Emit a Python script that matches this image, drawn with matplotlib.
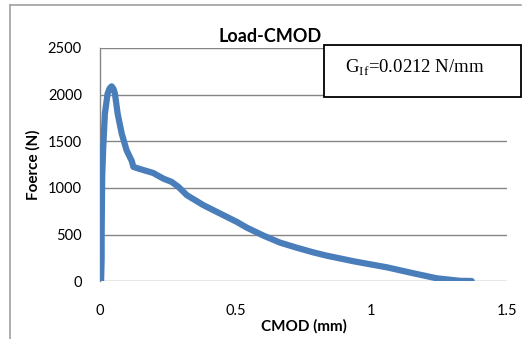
import numpy as np
import matplotlib
matplotlib.use("Agg")
import matplotlib.pyplot as plt
from matplotlib.lines import Line2D
from matplotlib.patches import Rectangle

# ---------------------------------------------------------------
# data
# ---------------------------------------------------------------
cmod = [0.004, 0.006, 0.006, 0.007, 0.008, 0.012, 0.018, 0.028, 0.036, 0.043,
        0.050, 0.055, 0.065, 0.080, 0.098, 0.117, 0.123, 0.147, 0.196, 0.233,
        0.264, 0.289, 0.320, 0.381, 0.442, 0.504, 0.541, 0.602, 0.663, 0.725,
        0.786, 0.835, 0.934, 1.000, 1.057, 1.155, 1.241, 1.327, 1.370]
force = [0, 250, 500, 800, 1120, 1440, 1797, 2011, 2070, 2089,
         2060, 2011, 1797, 1583, 1404, 1290, 1226, 1203, 1161, 1101,
         1065, 1012, 923, 816, 727, 637, 575, 490, 415, 360,
         310, 275, 215, 180, 150, 86, 32, 5, 3]

x_ticks = [0, 0.5, 1, 1.5]
x_ticklabels = ["0", "0.5", "1", "1.5"]
y_ticks = [0, 500, 1000, 1500, 2000, 2500]

title = "Load-CMOD"
x_label = "CMOD (mm)"
y_label = "Foerce (N)"
note = r"G$_{\mathrm{If}}$=0.0212 N/mm"

# ---------------------------------------------------------------
plt.rcParams['font.family'] = ['Lato', 'DejaVu Sans']
plt.rcParams['mathtext.fontset'] = 'custom'
plt.rcParams['mathtext.rm'] = 'Liberation Serif'

W, H = 522, 339
fig = plt.figure(figsize=(W / 100, H / 100), dpi=100)

def fx(px):
    return px / W

def fy(py):
    return 1 - py / H

ax = fig.add_axes([fx(100), fy(281.3), fx(507) - fx(100), fy(48) - fy(281.3)])

ax.plot(cmod, force, color='#4a7ebb', linewidth=4.5,
        solid_capstyle='round', solid_joinstyle='round', zorder=3)

ax.set_xlim(0, 1.5)
ax.set_ylim(0, 2500)
ax.set_xticks(x_ticks)
ax.set_xticklabels(x_ticklabels)
ax.set_yticks(y_ticks)
ax.grid(axis='y', color='#868686', linewidth=1.0)
ax.set_axisbelow(True)
for s in ['top', 'right', 'bottom']:
    ax.spines[s].set_visible(False)
ax.spines['left'].set_color('#868686')
ax.spines['left'].set_linewidth(1.0)
ax.tick_params(axis='both', length=0, labelsize=10.5, colors='black')
ax.tick_params(axis='x', pad=16)
ax.tick_params(axis='y', pad=13)

ax.set_xlabel(x_label, fontsize=11, fontweight='bold', labelpad=1)
ax.set_ylabel(y_label, fontsize=11, fontweight='bold', labelpad=5)

fig.text(fx(270), fy(37), title, fontsize=13, fontweight='bold',
         ha='center', va='center')

# outer chart border (only left and top visible in the crop)
fig.add_artist(Line2D([fx(10), fx(521)], [fy(5), fy(5)], color='#a0a0a0',
                      linewidth=1.2, transform=fig.transFigure))
fig.add_artist(Line2D([fx(10), fx(10)], [fy(5), fy(340)], color='#a0a0a0',
                      linewidth=1.2, transform=fig.transFigure))

# annotation box
fig.add_artist(Rectangle((fx(324), fy(97)), fx(521) - fx(324), fy(45) - fy(97),
                         transform=fig.transFigure, facecolor='white',
                         edgecolor='black', linewidth=1.3, zorder=5))
fig.text(fx(415), fy(68), note, fontsize=13.5, family='Liberation Serif',
         ha='center', va='center', zorder=6)

fig.savefig("out.png", dpi=100)
